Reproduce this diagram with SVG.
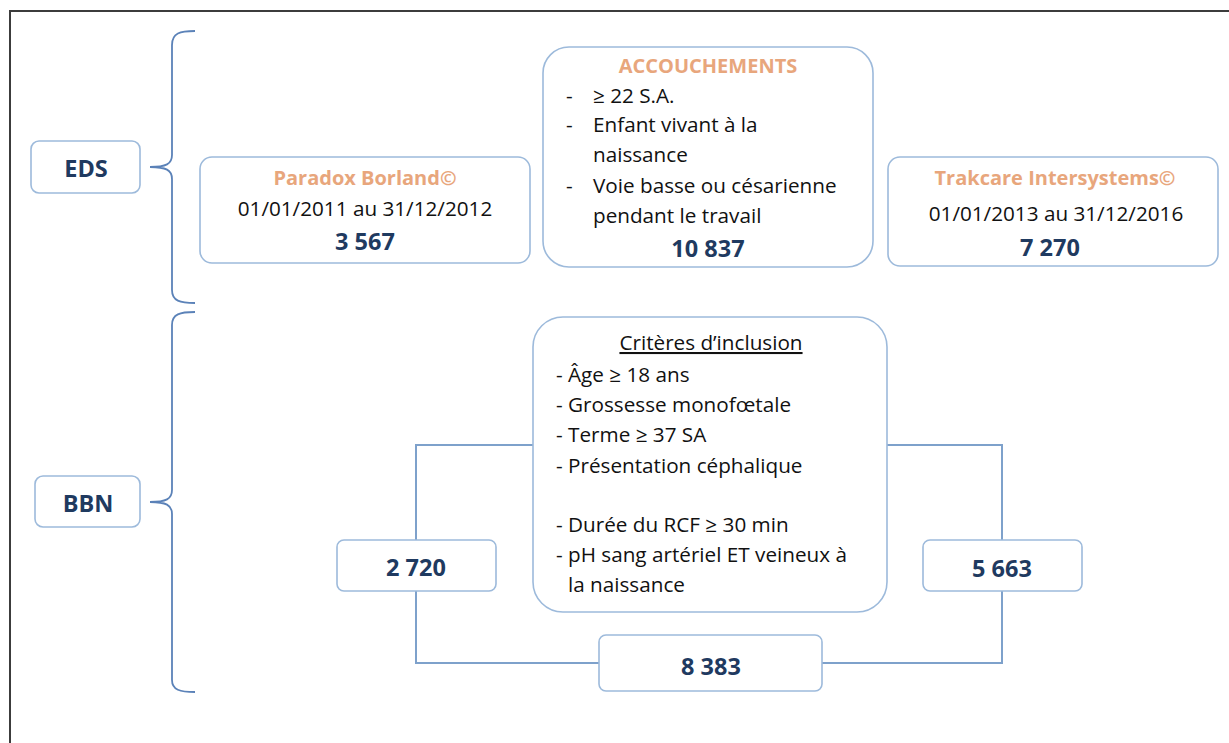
<svg xmlns="http://www.w3.org/2000/svg" width="1229" height="743" viewBox="0 0 1229 743">
<style>
.box{fill:#fff;stroke:#9dbadb;stroke-width:1.6}
.con{fill:none;stroke:#7ea1cb;stroke-width:2}
.brace{fill:none;stroke:#5b82b8;stroke-width:1.8}
text{font-family:"Open Sans","Liberation Sans",sans-serif}
.t{font-size:20.7px;fill:#111}
.ttl{font-size:20px;font-weight:bold;fill:#e8a67c}
.num{font-size:23.5px;font-weight:bold;fill:#1f3a60}
.c{text-anchor:middle}
</style>
<rect x="0" y="0" width="1229" height="743" fill="#fff"/>
<rect x="10" y="11" width="1240" height="760" fill="none" stroke="#3c3c3c" stroke-width="2"/>
<g id="connectors">
<path class="brace" d="M195,31 C180,31 172,33 172,45 L172,155 C172,164 166,167 150,167 C166,167 172,170 172,179 L172,290 C172,301 180,303 195,303"/>
<path class="brace" d="M195,312 C180,312 172,314 172,325 L172,490 C172,499 166,502 150,502 C166,502 172,505 172,514 L172,680 C172,690 180,692 195,692"/>
<path class="con" d="M533,445 H416 V540"/>
<path class="con" d="M416,591 V663 H599"/>
<path class="con" d="M887,445 H1002 V540"/>
<path class="con" d="M1002,591 V663 H822"/>
</g>
<g id="eds">
<rect class="box" x="31" y="141" width="109" height="52" rx="8"/>
<text class="num c" x="86" y="177">EDS</text>
</g>
<g id="bbn">
<rect class="box" x="35" y="476" width="105" height="51" rx="8"/>
<text class="num c" x="88" y="512">BBN</text>
</g>
<g id="paradox">
<rect class="box" x="200" y="157" width="330" height="106" rx="12"/>
<text class="ttl c" x="365" y="185">Paradox Borland©</text>
<text class="t c" x="365" y="216">01/01/2011 au 31/12/2012</text>
<text class="num c" x="365" y="250">3 567</text>
</g>
<g id="accouchements">
<rect class="box" x="543" y="47" width="330" height="220" rx="26"/>
<text class="ttl c" x="708" y="73">ACCOUCHEMENTS</text>
<text class="t"><tspan x="566" y="103">-</tspan><tspan x="593" y="103">≥ 22 S.A.</tspan></text>
<text class="t"><tspan x="566" y="132">-</tspan><tspan x="593" y="132">Enfant vivant à la</tspan></text>
<text class="t" x="593" y="162">naissance</text>
<text class="t"><tspan x="566" y="193">-</tspan><tspan x="593" y="193">Voie basse ou césarienne</tspan></text>
<text class="t" x="593" y="223">pendant le travail</text>
<text class="num c" x="708" y="257">10 837</text>
</g>
<g id="trakcare">
<rect class="box" x="888" y="157" width="330" height="109" rx="12"/>
<text class="ttl c" x="1055" y="185">Trakcare Intersystems©</text>
<text class="t c" x="1056" y="221">01/01/2013 au 31/12/2016</text>
<text class="num c" x="1050" y="256">7 270</text>
</g>
<g id="criteres">
<rect class="box" x="533" y="317" width="354" height="295" rx="30"/>
<text class="t c" x="711" y="350" text-decoration="underline">Critères d’inclusion</text>
<text class="t" x="556" y="382">- Âge ≥ 18 ans</text>
<text class="t" x="556" y="412">- Grossesse monofœtale</text>
<text class="t" x="556" y="442">- Terme ≥ 37 SA</text>
<text class="t" x="556" y="473">- Présentation céphalique</text>
<text class="t" x="556" y="532">- Durée du RCF ≥ 30 min</text>
<text class="t" x="556" y="562">- pH sang artériel ET veineux à</text>
<text class="t" x="568" y="592">la naissance</text>
</g>
<g id="n2720">
<rect class="box" x="337" y="540" width="159" height="51" rx="7"/>
<text class="num c" x="416" y="576">2 720</text>
</g>
<g id="n5663">
<rect class="box" x="923" y="540" width="159" height="51" rx="7"/>
<text class="num c" x="1002" y="577">5 663</text>
</g>
<g id="n8383">
<rect class="box" x="599" y="635" width="223" height="56" rx="7"/>
<text class="num c" x="711" y="675">8 383</text>
</g>
</svg>
